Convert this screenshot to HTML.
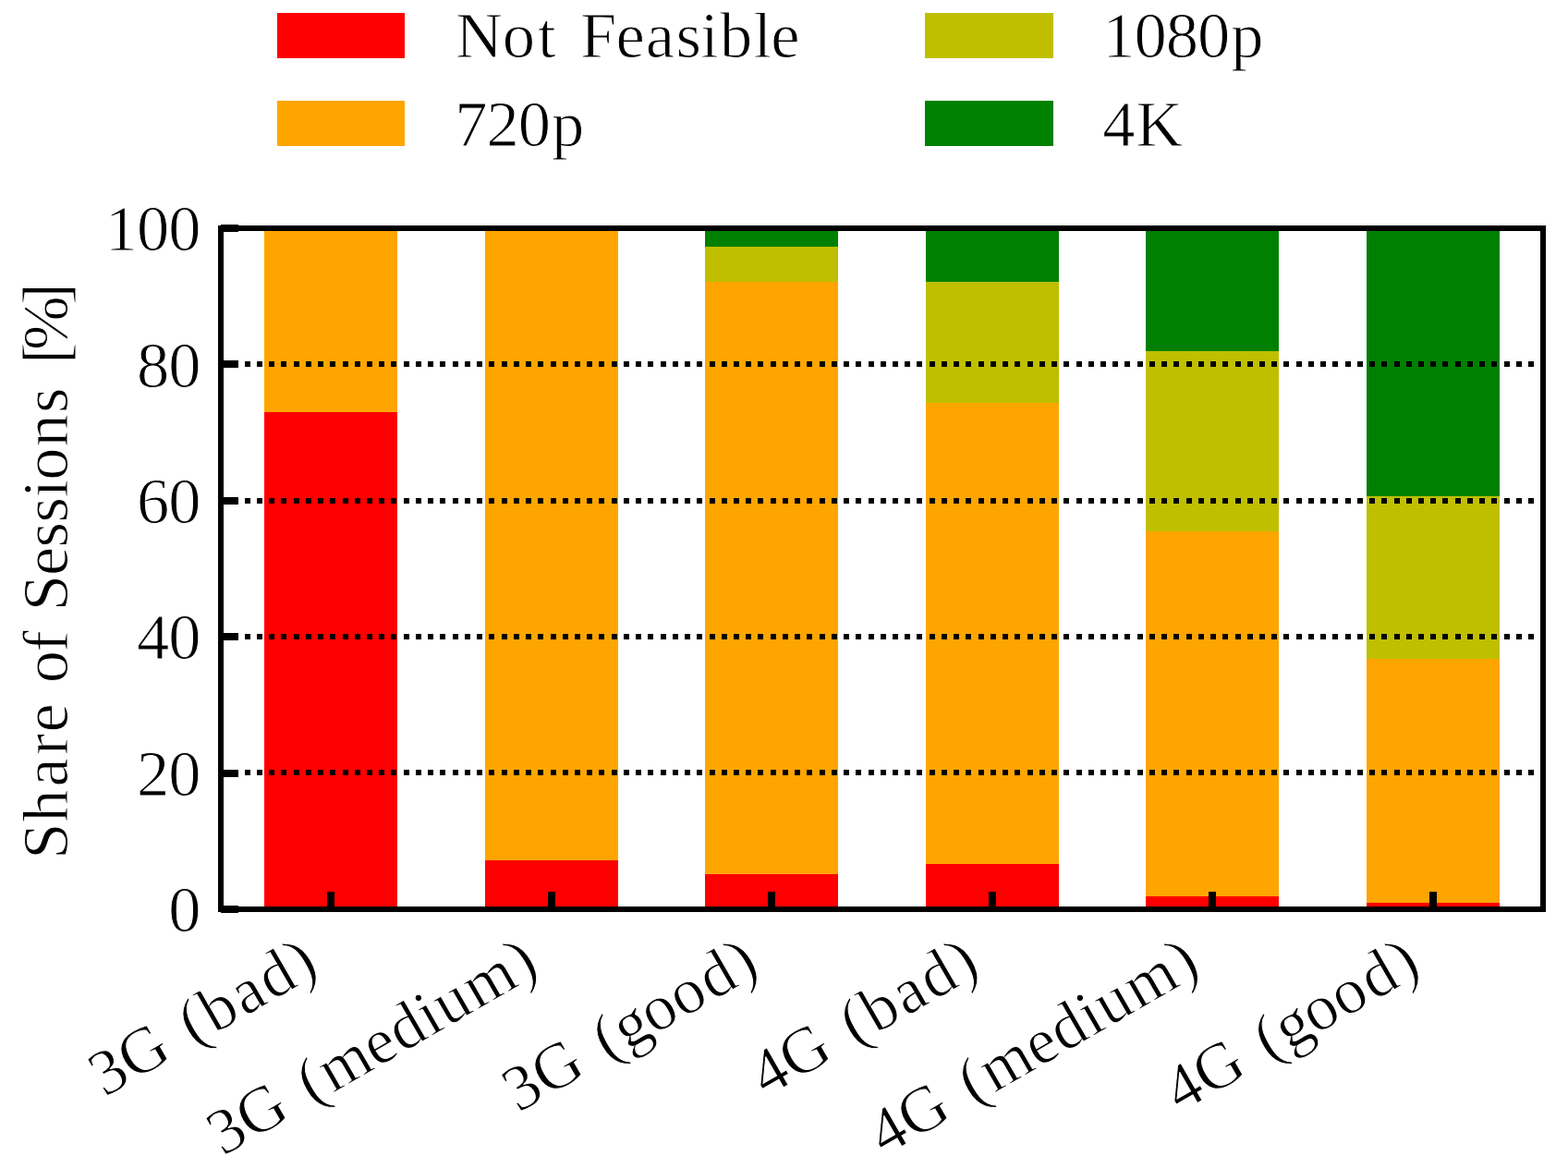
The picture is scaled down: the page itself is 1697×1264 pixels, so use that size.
<!DOCTYPE html>
<html lang="en"><head><meta charset="utf-8"><title>Share of Sessions</title>
<style>html,body{margin:0;padding:0;background:#fff;}body{width:1697px;height:1264px;overflow:hidden;}svg{display:block;}text{font-family:"Liberation Serif",serif;fill:#000;stroke:#fff;stroke-width:1px;white-space:pre;}</style>
</head><body>
<svg width="1697" height="1264" viewBox="0 0 1697 1264">
<rect x="0" y="0" width="1697" height="1264" fill="#ffffff"/>
<g shape-rendering="crispEdges">
<rect x="300" y="14" width="138" height="49" fill="#ff0000"/>
<rect x="300" y="109" width="138" height="49" fill="#ffa500"/>
<rect x="1001" y="14" width="139" height="49" fill="#bfbf00"/>
<rect x="1001" y="109" width="139" height="49" fill="#008000"/>
<rect x="286" y="446" width="144" height="538" fill="#ff0000"/>
<rect x="286" y="247" width="144" height="199" fill="#ffa500"/>
<rect x="525" y="931" width="144" height="53" fill="#ff0000"/>
<rect x="525" y="247" width="144" height="684" fill="#ffa500"/>
<rect x="763" y="946" width="144" height="38" fill="#ff0000"/>
<rect x="763" y="305" width="144" height="641" fill="#ffa500"/>
<rect x="763" y="267" width="144" height="38" fill="#bfbf00"/>
<rect x="763" y="247" width="144" height="20" fill="#008000"/>
<rect x="1002" y="935" width="144" height="49" fill="#ff0000"/>
<rect x="1002" y="436" width="144" height="499" fill="#ffa500"/>
<rect x="1002" y="305" width="144" height="131" fill="#bfbf00"/>
<rect x="1002" y="247" width="144" height="58" fill="#008000"/>
<rect x="1240" y="970" width="144" height="14" fill="#ff0000"/>
<rect x="1240" y="575" width="144" height="395" fill="#ffa500"/>
<rect x="1240" y="380" width="144" height="195" fill="#bfbf00"/>
<rect x="1240" y="247" width="144" height="133" fill="#008000"/>
<rect x="1479" y="977" width="144" height="7" fill="#ff0000"/>
<rect x="1479" y="713" width="144" height="264" fill="#ffa500"/>
<rect x="1479" y="537" width="144" height="176" fill="#bfbf00"/>
<rect x="1479" y="247" width="144" height="290" fill="#008000"/>
<path d="M265 391h6v6h-6zM278 391h6v6h-6zM291 391h6v6h-6zM304 391h6v6h-6zM318 391h6v6h-6zM331 391h6v6h-6zM344 391h6v6h-6zM357 391h6v6h-6zM371 391h6v6h-6zM384 391h6v6h-6zM397 391h6v6h-6zM410 391h6v6h-6zM423 391h6v6h-6zM437 391h6v6h-6zM450 391h6v6h-6zM463 391h6v6h-6zM476 391h6v6h-6zM490 391h6v6h-6zM503 391h6v6h-6zM516 391h6v6h-6zM529 391h6v6h-6zM543 391h6v6h-6zM556 391h6v6h-6zM569 391h6v6h-6zM582 391h6v6h-6zM596 391h6v6h-6zM609 391h6v6h-6zM622 391h6v6h-6zM635 391h6v6h-6zM648 391h6v6h-6zM662 391h6v6h-6zM675 391h6v6h-6zM688 391h6v6h-6zM701 391h6v6h-6zM715 391h6v6h-6zM728 391h6v6h-6zM741 391h6v6h-6zM754 391h6v6h-6zM768 391h6v6h-6zM781 391h6v6h-6zM794 391h6v6h-6zM807 391h6v6h-6zM820 391h6v6h-6zM834 391h6v6h-6zM847 391h6v6h-6zM860 391h6v6h-6zM873 391h6v6h-6zM887 391h6v6h-6zM900 391h6v6h-6zM913 391h6v6h-6zM926 391h6v6h-6zM940 391h6v6h-6zM953 391h6v6h-6zM966 391h6v6h-6zM979 391h6v6h-6zM992 391h6v6h-6zM1006 391h6v6h-6zM1019 391h6v6h-6zM1032 391h6v6h-6zM1045 391h6v6h-6zM1059 391h6v6h-6zM1072 391h6v6h-6zM1085 391h6v6h-6zM1098 391h6v6h-6zM1112 391h6v6h-6zM1125 391h6v6h-6zM1138 391h6v6h-6zM1151 391h6v6h-6zM1165 391h6v6h-6zM1178 391h6v6h-6zM1191 391h6v6h-6zM1204 391h6v6h-6zM1217 391h6v6h-6zM1231 391h6v6h-6zM1244 391h6v6h-6zM1257 391h6v6h-6zM1270 391h6v6h-6zM1284 391h6v6h-6zM1297 391h6v6h-6zM1310 391h6v6h-6zM1323 391h6v6h-6zM1337 391h6v6h-6zM1350 391h6v6h-6zM1363 391h6v6h-6zM1376 391h6v6h-6zM1389 391h6v6h-6zM1403 391h6v6h-6zM1416 391h6v6h-6zM1429 391h6v6h-6zM1442 391h6v6h-6zM1456 391h6v6h-6zM1469 391h6v6h-6zM1482 391h6v6h-6zM1495 391h6v6h-6zM1509 391h6v6h-6zM1522 391h6v6h-6zM1535 391h6v6h-6zM1548 391h6v6h-6zM1561 391h6v6h-6zM1575 391h6v6h-6zM1588 391h6v6h-6zM1601 391h6v6h-6zM1614 391h6v6h-6zM1628 391h6v6h-6zM1641 391h6v6h-6zM1654 391h6v6h-6z" fill="#000"/>
<path d="M265 539h6v6h-6zM278 539h6v6h-6zM291 539h6v6h-6zM304 539h6v6h-6zM318 539h6v6h-6zM331 539h6v6h-6zM344 539h6v6h-6zM357 539h6v6h-6zM371 539h6v6h-6zM384 539h6v6h-6zM397 539h6v6h-6zM410 539h6v6h-6zM423 539h6v6h-6zM437 539h6v6h-6zM450 539h6v6h-6zM463 539h6v6h-6zM476 539h6v6h-6zM490 539h6v6h-6zM503 539h6v6h-6zM516 539h6v6h-6zM529 539h6v6h-6zM543 539h6v6h-6zM556 539h6v6h-6zM569 539h6v6h-6zM582 539h6v6h-6zM596 539h6v6h-6zM609 539h6v6h-6zM622 539h6v6h-6zM635 539h6v6h-6zM648 539h6v6h-6zM662 539h6v6h-6zM675 539h6v6h-6zM688 539h6v6h-6zM701 539h6v6h-6zM715 539h6v6h-6zM728 539h6v6h-6zM741 539h6v6h-6zM754 539h6v6h-6zM768 539h6v6h-6zM781 539h6v6h-6zM794 539h6v6h-6zM807 539h6v6h-6zM820 539h6v6h-6zM834 539h6v6h-6zM847 539h6v6h-6zM860 539h6v6h-6zM873 539h6v6h-6zM887 539h6v6h-6zM900 539h6v6h-6zM913 539h6v6h-6zM926 539h6v6h-6zM940 539h6v6h-6zM953 539h6v6h-6zM966 539h6v6h-6zM979 539h6v6h-6zM992 539h6v6h-6zM1006 539h6v6h-6zM1019 539h6v6h-6zM1032 539h6v6h-6zM1045 539h6v6h-6zM1059 539h6v6h-6zM1072 539h6v6h-6zM1085 539h6v6h-6zM1098 539h6v6h-6zM1112 539h6v6h-6zM1125 539h6v6h-6zM1138 539h6v6h-6zM1151 539h6v6h-6zM1165 539h6v6h-6zM1178 539h6v6h-6zM1191 539h6v6h-6zM1204 539h6v6h-6zM1217 539h6v6h-6zM1231 539h6v6h-6zM1244 539h6v6h-6zM1257 539h6v6h-6zM1270 539h6v6h-6zM1284 539h6v6h-6zM1297 539h6v6h-6zM1310 539h6v6h-6zM1323 539h6v6h-6zM1337 539h6v6h-6zM1350 539h6v6h-6zM1363 539h6v6h-6zM1376 539h6v6h-6zM1389 539h6v6h-6zM1403 539h6v6h-6zM1416 539h6v6h-6zM1429 539h6v6h-6zM1442 539h6v6h-6zM1456 539h6v6h-6zM1469 539h6v6h-6zM1482 539h6v6h-6zM1495 539h6v6h-6zM1509 539h6v6h-6zM1522 539h6v6h-6zM1535 539h6v6h-6zM1548 539h6v6h-6zM1561 539h6v6h-6zM1575 539h6v6h-6zM1588 539h6v6h-6zM1601 539h6v6h-6zM1614 539h6v6h-6zM1628 539h6v6h-6zM1641 539h6v6h-6zM1654 539h6v6h-6z" fill="#000"/>
<path d="M265 686h6v6h-6zM278 686h6v6h-6zM291 686h6v6h-6zM304 686h6v6h-6zM318 686h6v6h-6zM331 686h6v6h-6zM344 686h6v6h-6zM357 686h6v6h-6zM371 686h6v6h-6zM384 686h6v6h-6zM397 686h6v6h-6zM410 686h6v6h-6zM423 686h6v6h-6zM437 686h6v6h-6zM450 686h6v6h-6zM463 686h6v6h-6zM476 686h6v6h-6zM490 686h6v6h-6zM503 686h6v6h-6zM516 686h6v6h-6zM529 686h6v6h-6zM543 686h6v6h-6zM556 686h6v6h-6zM569 686h6v6h-6zM582 686h6v6h-6zM596 686h6v6h-6zM609 686h6v6h-6zM622 686h6v6h-6zM635 686h6v6h-6zM648 686h6v6h-6zM662 686h6v6h-6zM675 686h6v6h-6zM688 686h6v6h-6zM701 686h6v6h-6zM715 686h6v6h-6zM728 686h6v6h-6zM741 686h6v6h-6zM754 686h6v6h-6zM768 686h6v6h-6zM781 686h6v6h-6zM794 686h6v6h-6zM807 686h6v6h-6zM820 686h6v6h-6zM834 686h6v6h-6zM847 686h6v6h-6zM860 686h6v6h-6zM873 686h6v6h-6zM887 686h6v6h-6zM900 686h6v6h-6zM913 686h6v6h-6zM926 686h6v6h-6zM940 686h6v6h-6zM953 686h6v6h-6zM966 686h6v6h-6zM979 686h6v6h-6zM992 686h6v6h-6zM1006 686h6v6h-6zM1019 686h6v6h-6zM1032 686h6v6h-6zM1045 686h6v6h-6zM1059 686h6v6h-6zM1072 686h6v6h-6zM1085 686h6v6h-6zM1098 686h6v6h-6zM1112 686h6v6h-6zM1125 686h6v6h-6zM1138 686h6v6h-6zM1151 686h6v6h-6zM1165 686h6v6h-6zM1178 686h6v6h-6zM1191 686h6v6h-6zM1204 686h6v6h-6zM1217 686h6v6h-6zM1231 686h6v6h-6zM1244 686h6v6h-6zM1257 686h6v6h-6zM1270 686h6v6h-6zM1284 686h6v6h-6zM1297 686h6v6h-6zM1310 686h6v6h-6zM1323 686h6v6h-6zM1337 686h6v6h-6zM1350 686h6v6h-6zM1363 686h6v6h-6zM1376 686h6v6h-6zM1389 686h6v6h-6zM1403 686h6v6h-6zM1416 686h6v6h-6zM1429 686h6v6h-6zM1442 686h6v6h-6zM1456 686h6v6h-6zM1469 686h6v6h-6zM1482 686h6v6h-6zM1495 686h6v6h-6zM1509 686h6v6h-6zM1522 686h6v6h-6zM1535 686h6v6h-6zM1548 686h6v6h-6zM1561 686h6v6h-6zM1575 686h6v6h-6zM1588 686h6v6h-6zM1601 686h6v6h-6zM1614 686h6v6h-6zM1628 686h6v6h-6zM1641 686h6v6h-6zM1654 686h6v6h-6z" fill="#000"/>
<path d="M265 833h6v6h-6zM278 833h6v6h-6zM291 833h6v6h-6zM304 833h6v6h-6zM318 833h6v6h-6zM331 833h6v6h-6zM344 833h6v6h-6zM357 833h6v6h-6zM371 833h6v6h-6zM384 833h6v6h-6zM397 833h6v6h-6zM410 833h6v6h-6zM423 833h6v6h-6zM437 833h6v6h-6zM450 833h6v6h-6zM463 833h6v6h-6zM476 833h6v6h-6zM490 833h6v6h-6zM503 833h6v6h-6zM516 833h6v6h-6zM529 833h6v6h-6zM543 833h6v6h-6zM556 833h6v6h-6zM569 833h6v6h-6zM582 833h6v6h-6zM596 833h6v6h-6zM609 833h6v6h-6zM622 833h6v6h-6zM635 833h6v6h-6zM648 833h6v6h-6zM662 833h6v6h-6zM675 833h6v6h-6zM688 833h6v6h-6zM701 833h6v6h-6zM715 833h6v6h-6zM728 833h6v6h-6zM741 833h6v6h-6zM754 833h6v6h-6zM768 833h6v6h-6zM781 833h6v6h-6zM794 833h6v6h-6zM807 833h6v6h-6zM820 833h6v6h-6zM834 833h6v6h-6zM847 833h6v6h-6zM860 833h6v6h-6zM873 833h6v6h-6zM887 833h6v6h-6zM900 833h6v6h-6zM913 833h6v6h-6zM926 833h6v6h-6zM940 833h6v6h-6zM953 833h6v6h-6zM966 833h6v6h-6zM979 833h6v6h-6zM992 833h6v6h-6zM1006 833h6v6h-6zM1019 833h6v6h-6zM1032 833h6v6h-6zM1045 833h6v6h-6zM1059 833h6v6h-6zM1072 833h6v6h-6zM1085 833h6v6h-6zM1098 833h6v6h-6zM1112 833h6v6h-6zM1125 833h6v6h-6zM1138 833h6v6h-6zM1151 833h6v6h-6zM1165 833h6v6h-6zM1178 833h6v6h-6zM1191 833h6v6h-6zM1204 833h6v6h-6zM1217 833h6v6h-6zM1231 833h6v6h-6zM1244 833h6v6h-6zM1257 833h6v6h-6zM1270 833h6v6h-6zM1284 833h6v6h-6zM1297 833h6v6h-6zM1310 833h6v6h-6zM1323 833h6v6h-6zM1337 833h6v6h-6zM1350 833h6v6h-6zM1363 833h6v6h-6zM1376 833h6v6h-6zM1389 833h6v6h-6zM1403 833h6v6h-6zM1416 833h6v6h-6zM1429 833h6v6h-6zM1442 833h6v6h-6zM1456 833h6v6h-6zM1469 833h6v6h-6zM1482 833h6v6h-6zM1495 833h6v6h-6zM1509 833h6v6h-6zM1522 833h6v6h-6zM1535 833h6v6h-6zM1548 833h6v6h-6zM1561 833h6v6h-6zM1575 833h6v6h-6zM1588 833h6v6h-6zM1601 833h6v6h-6zM1614 833h6v6h-6zM1628 833h6v6h-6zM1641 833h6v6h-6zM1654 833h6v6h-6z" fill="#000"/>
<path d="M239 247H1670V984H239Z" fill="none" stroke="#000" stroke-width="6"/>
<rect x="239" y="980" width="19" height="8" fill="#000"/>
<rect x="239" y="833" width="19" height="8" fill="#000"/>
<rect x="239" y="685" width="19" height="8" fill="#000"/>
<rect x="239" y="538" width="19" height="8" fill="#000"/>
<rect x="239" y="390" width="19" height="8" fill="#000"/>
<rect x="239" y="243" width="19" height="8" fill="#000"/>
<rect x="354" y="965" width="8" height="19" fill="#000"/>
<rect x="593" y="965" width="8" height="19" fill="#000"/>
<rect x="831" y="965" width="8" height="19" fill="#000"/>
<rect x="1070" y="965" width="8" height="19" fill="#000"/>
<rect x="1308" y="965" width="8" height="19" fill="#000"/>
<rect x="1547" y="965" width="8" height="19" fill="#000"/>
</g>
<text x="493.0 543.7 582.0 607.7 627.9 666.5 698.8 731.4 758.3 779.0 815.4 834.3" y="62.0" font-size="70.5">Not Feasible</text>
<text x="492.3 526.5 560.8 597.0" y="157.7" font-size="70.5">720p</text>
<text x="1193.3 1227.5 1261.8 1296.0 1332.2" y="62.0" font-size="70.5">1080p</text>
<text x="1193.3 1229.2" y="157.7" font-size="70.5">4K</text>
<text x="182.2" y="1008.1" font-size="70.5">0</text>
<text x="148.0 182.2" y="860.7" font-size="70.5">20</text>
<text x="148.0 182.2" y="713.3" font-size="70.5">40</text>
<text x="148.0 182.2" y="565.9" font-size="70.5">60</text>
<text x="148.0 182.2" y="418.5" font-size="70.5">80</text>
<text x="113.8 148.0 182.2" y="271.1" font-size="70.5">100</text>
<text transform="translate(72.6 615.6) rotate(-90)" x="-314.2 -274.2 -236.0 -201.6 -176.8 -143.4 -123.7 -90.2 -65.4 -45.7 -7.5 23.1 50.1 77.1 95.9 132.0 168.5 198.3 221.5 236.7 285.9" y="0.5" font-size="70.5">Share of Sessions [%]</text>
<text transform="translate(348.2 1051.6) rotate(-30)" x="-271.7 -236.1 -181.6 -160.2 -134.1 -96.4 -62.7 -24.9" y="0.5" font-size="70.5">3G (bad)</text>
<text transform="translate(586.8 1051.6) rotate(-30)" x="-399.3 -363.7 -309.3 -287.8 -262.2 -207.2 -175.4 -139.4 -119.0 -81.9 -24.9" y="0.5" font-size="70.5">3G (medium)</text>
<text transform="translate(825.4 1051.6) rotate(-30)" x="-305.5 -269.9 -215.4 -194.0 -169.8 -136.0 -100.3 -62.7 -24.9" y="0.5" font-size="70.5">3G (good)</text>
<text transform="translate(1064.0 1051.6) rotate(-30)" x="-271.7 -236.1 -181.6 -160.2 -134.1 -96.4 -62.7 -24.9" y="0.5" font-size="70.5">4G (bad)</text>
<text transform="translate(1302.6 1051.6) rotate(-30)" x="-399.3 -363.7 -309.3 -287.8 -262.2 -207.2 -175.4 -139.4 -119.0 -81.9 -24.9" y="0.5" font-size="70.5">4G (medium)</text>
<text transform="translate(1541.2 1051.6) rotate(-30)" x="-305.5 -269.9 -215.4 -194.0 -169.8 -136.0 -100.3 -62.7 -24.9" y="0.5" font-size="70.5">4G (good)</text>
</svg>
</body></html>
